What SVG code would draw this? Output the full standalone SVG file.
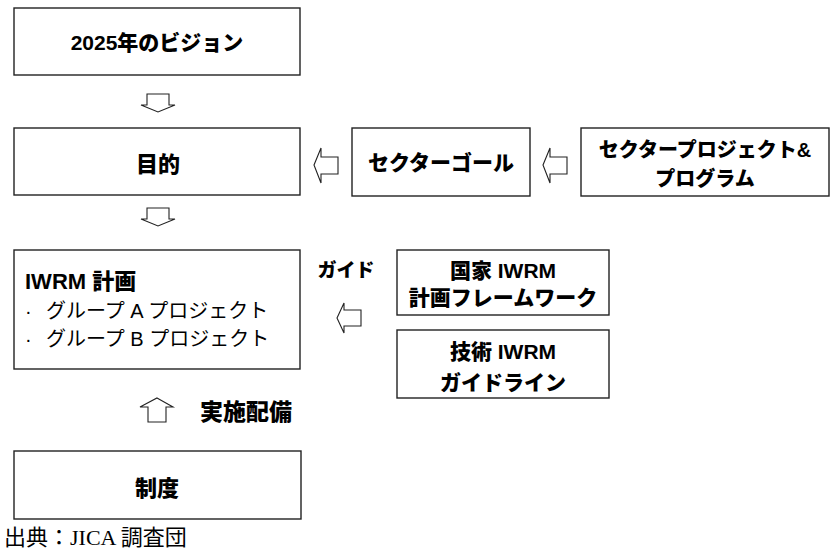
<svg xmlns="http://www.w3.org/2000/svg" width="832" height="551" viewBox="0 0 832 551">
<style>
.box{fill:#fff;stroke:#222;stroke-width:1.4}
.arr{fill:#fff;stroke:#222;stroke-width:1.1;stroke-linejoin:miter}
.t{font-family:"Liberation Sans","Noto Sans CJK JP",sans-serif;font-weight:900;fill:#000;text-anchor:middle}
.b{font-family:"Liberation Sans","Noto Sans CJK JP",sans-serif;font-weight:900;fill:#000}
.r{font-family:"Liberation Sans","Noto Sans CJK JP",sans-serif;font-weight:normal;fill:#000}
.src{font-family:"Liberation Serif","Noto Sans CJK JP",serif;fill:#000}
</style>
<rect width="832" height="551" fill="#fff"/>
<g id="vision">
<rect class="box" x="14" y="8" width="286" height="67"/>
<text class="t" x="157" y="50" font-size="21">2025年のビジョン</text>
</g>
<g id="objective">
<rect class="box" x="14" y="128" width="286" height="67"/>
<text class="t" x="158" y="172" font-size="22">目的</text>
</g>
<g id="sector-goal">
<rect class="box" x="352" y="128" width="178" height="68"/>
<text class="t" x="441" y="170" font-size="21">セクターゴール</text>
</g>
<g id="sector-projects">
<rect class="box" x="581" y="128" width="248" height="68"/>
<text class="t" x="705" y="157" font-size="20">セクタープロジェクト&amp;</text>
<text class="t" x="705" y="186" font-size="20">プログラム</text>
</g>
<g id="iwrm-plan">
<rect class="box" x="14" y="250" width="286" height="119"/>
<text class="b" x="25" y="289" font-size="22">IWRM 計画</text>
<text class="r" x="25" y="318" font-size="20">·<tspan x="46">グループ A プロジェクト</tspan></text>
<text class="r" x="25" y="346" font-size="20">·<tspan x="46">グループ B プロジェクト</tspan></text>
</g>
<g id="national-framework">
<rect class="box" x="397" y="250" width="212" height="65"/>
<text class="t" x="503" y="278" font-size="21">国家 IWRM</text>
<text class="t" x="503" y="305" font-size="21">計画フレームワーク</text>
</g>
<g id="technical-guideline">
<rect class="box" x="397" y="330" width="212" height="68"/>
<text class="t" x="503" y="359" font-size="21">技術 IWRM</text>
<text class="t" x="503" y="390" font-size="21">ガイドライン</text>
</g>
<g id="institution">
<rect class="box" x="14" y="451" width="287" height="68"/>
<text class="t" x="157" y="496" font-size="22">制度</text>
</g>
<g id="connectors">
<path class="arr" d="M147,94 H169 V105 H175 L158,112 L141,105 H147 Z"/>
<path class="arr" d="M147,208 H169 V219 H175 L158,226 L141,219 H147 Z"/>
<path class="arr" d="M314,165 L321,148 V157 H338 V174 H321 V183 Z"/>
<path class="arr" d="M543,165 L550,148 V157 H567 V174 H550 V183 Z"/>
<path class="arr" d="M337,318 L344,303 V310 H361 V326 H344 V333 Z"/>
<path class="arr" d="M157,398 L173,407 H166 V422 H148 V407 H140 Z"/>
<text class="t" x="346" y="277" font-size="19">ガイド</text>
<text class="t" x="246" y="420" font-size="23">実施配備</text>
</g>
<text class="src" x="4" y="545" font-size="22">出典：JICA 調査団</text>
</svg>
